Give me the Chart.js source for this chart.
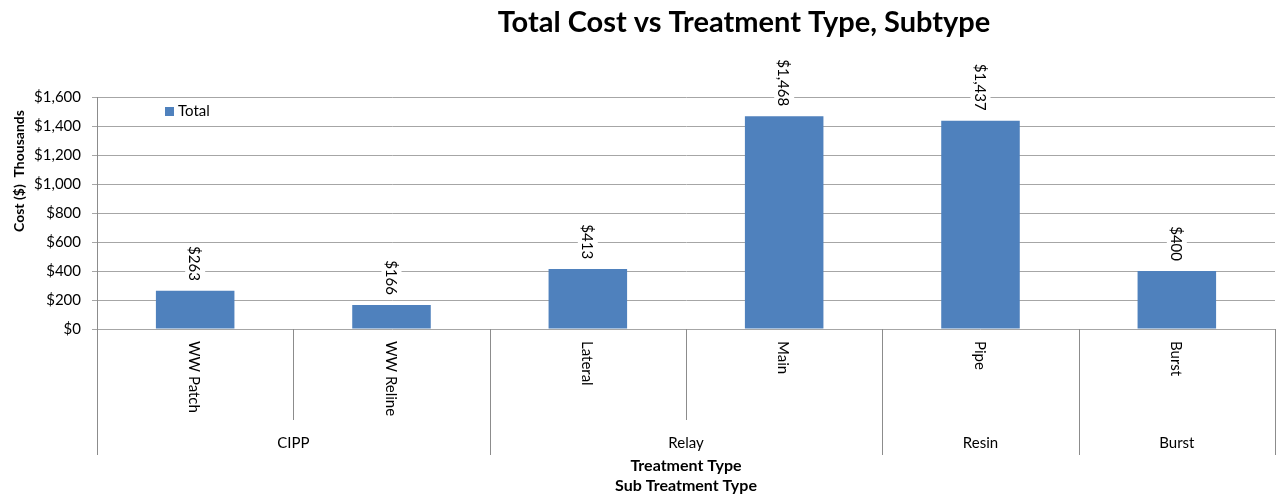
<!DOCTYPE html>
<html>
<head>
<meta charset="utf-8">
<script src="https://cdn.jsdelivr.net/npm/chart.js@4.4.1/dist/chart.umd.min.js"></script>
<style>
  html, body { margin: 0; padding: 0; background: #fff; }
  #wrap { width: 1276px; height: 495px; position: relative; }
</style>
</head>
<body>
<div id="wrap"><canvas id="c" width="1276" height="495"></canvas></div>
<script>
// ---- data ----
const subTypes = ['WW Patch', 'WW Reline', 'Lateral', 'Main', 'Pipe', 'Burst'];
const totalCost = [263, 166, 413, 1468, 1437, 400];
const treatmentTypes = ['CIPP', 'Relay', 'Resin', 'Burst'];
const treatmentSpan = [2, 2, 1, 1];
const yTickValues = [0, 200, 400, 600, 800, 1000, 1200, 1400, 1600];
const seriesName = 'Total';
const chartTitle = 'Total Cost vs Treatment Type, Subtype';
const yTitle = 'Cost ($)  Thousands';
const xTitles = ['Treatment Type', 'Sub Treatment Type'];

const FONT = 'Lato, "Liberation Sans", sans-serif';
const BAR = '#4F81BD';
const GRID = '#a6a6a6';
const AXIS = '#8c8c8c';

const money = v => '$' + v.toLocaleString('en-US');

// Title, legend, rotated value labels and the two-level category axis
const decorations = {
  id: 'decorations',
  afterDatasetsDraw(chart) {
    const ctx = chart.ctx;

    // value labels above the bars, reading top to bottom on a white box
    const meta = chart.getDatasetMeta(0);
    ctx.save();
    ctx.font = '15px ' + FONT;
    meta.data.forEach((bar, i) => {
      const txt = money(totalCost[i]);
      const w = ctx.measureText(txt).width;
      ctx.save();
      ctx.translate(bar.x, bar.y - 10);
      ctx.rotate(Math.PI / 2);
      ctx.fillStyle = '#fff';
      ctx.fillRect(-w - 3, -10, w + 6, 20);
      ctx.fillStyle = '#000';
      ctx.textAlign = 'right';
      ctx.textBaseline = 'middle';
      ctx.fillText(txt, 0, 1);
      ctx.restore();
    });
    ctx.restore();
  },
  afterDraw(chart) {
    const ctx = chart.ctx;
    const area = chart.chartArea;
    const x = chart.scales.x;
    const step = (area.right - area.left) / subTypes.length;

    ctx.save();
    // title
    ctx.fillStyle = '#000';
    ctx.font = 'bold 29px ' + FONT;
    ctx.textAlign = 'center';
    ctx.textBaseline = 'middle';
    ctx.fillText(chartTitle, 744, 23);

    // y-axis title
    ctx.save();
    ctx.translate(19, 171);
    ctx.rotate(-Math.PI / 2);
    ctx.font = 'bold 14px ' + FONT;
    ctx.fillText(yTitle, 0, 0);
    ctx.restore();

    // legend
    ctx.fillStyle = BAR;
    ctx.fillRect(165, 107, 9, 9);
    ctx.fillStyle = '#000';
    ctx.font = '15px ' + FONT;
    ctx.textAlign = 'left';
    ctx.fillText(seriesName, 178, 111);

    // category separators under the axis
    ctx.strokeStyle = AXIS;
    ctx.lineWidth = 1;
    const groupEdges = new Set([0]);
    let acc = 0;
    treatmentSpan.forEach(n => { acc += n; groupEdges.add(acc); });
    for (let k = 0; k <= subTypes.length; k++) {
      const px = Math.round(area.left + k * step) + 0.5;
      const bottom = groupEdges.has(k) ? 455 : 420;
      ctx.beginPath();
      ctx.moveTo(px, area.bottom);
      ctx.lineTo(px, bottom);
      ctx.stroke();
    }

    // subtype labels, rotated
    ctx.fillStyle = '#000';
    ctx.font = '15px ' + FONT;
    subTypes.forEach((s, i) => {
      ctx.save();
      ctx.translate(x.getPixelForValue(i), 341);
      ctx.rotate(Math.PI / 2);
      ctx.textAlign = 'left';
      ctx.textBaseline = 'middle';
      ctx.fillText(s, 0, 1);
      ctx.restore();
    });

    // treatment type labels, centred on their group
    ctx.textAlign = 'center';
    ctx.textBaseline = 'middle';
    let start = 0;
    treatmentTypes.forEach((g, i) => {
      const l = area.left + start * step;
      const r = area.left + (start + treatmentSpan[i]) * step;
      ctx.fillText(g, (l + r) / 2, 443);
      start += treatmentSpan[i];
    });

    // x-axis titles
    ctx.font = 'bold 16px ' + FONT;
    const cx = (area.left + area.right) / 2;
    ctx.fillText(xTitles[0], cx, 466);
    ctx.fillText(xTitles[1], cx, 486);
    ctx.restore();
  }
};

new Chart(document.getElementById('c'), {
  type: 'bar',
  data: {
    labels: subTypes,
    datasets: [{
      label: seriesName,
      data: totalCost,
      backgroundColor: BAR,
      borderWidth: 0,
      categoryPercentage: 1.0,
      barPercentage: 0.4
    }]
  },
  options: {
    responsive: false,
    animation: false,
    devicePixelRatio: 1,
    layout: { padding: { top: 97, right: 1, bottom: 166, left: 0 } },
    plugins: {
      legend: { display: false },
      title: { display: false },
      tooltip: { enabled: false }
    },
    scales: {
      x: { display: false, offset: true },
      y: {
        min: 0,
        max: 1600,
        afterBuildTicks: s => { s.ticks = yTickValues.map(v => ({ value: v })); },
        afterFit: s => { s.width = 97; },
        ticks: {
          callback: v => money(v),
          color: '#000',
          font: { family: FONT, size: 15 },
          padding: 11
        },
        grid: { color: GRID, tickLength: 5, tickColor: GRID },
        border: { color: AXIS }
      }
    }
  },
  plugins: [decorations]
});
</script>
</body>
</html>
